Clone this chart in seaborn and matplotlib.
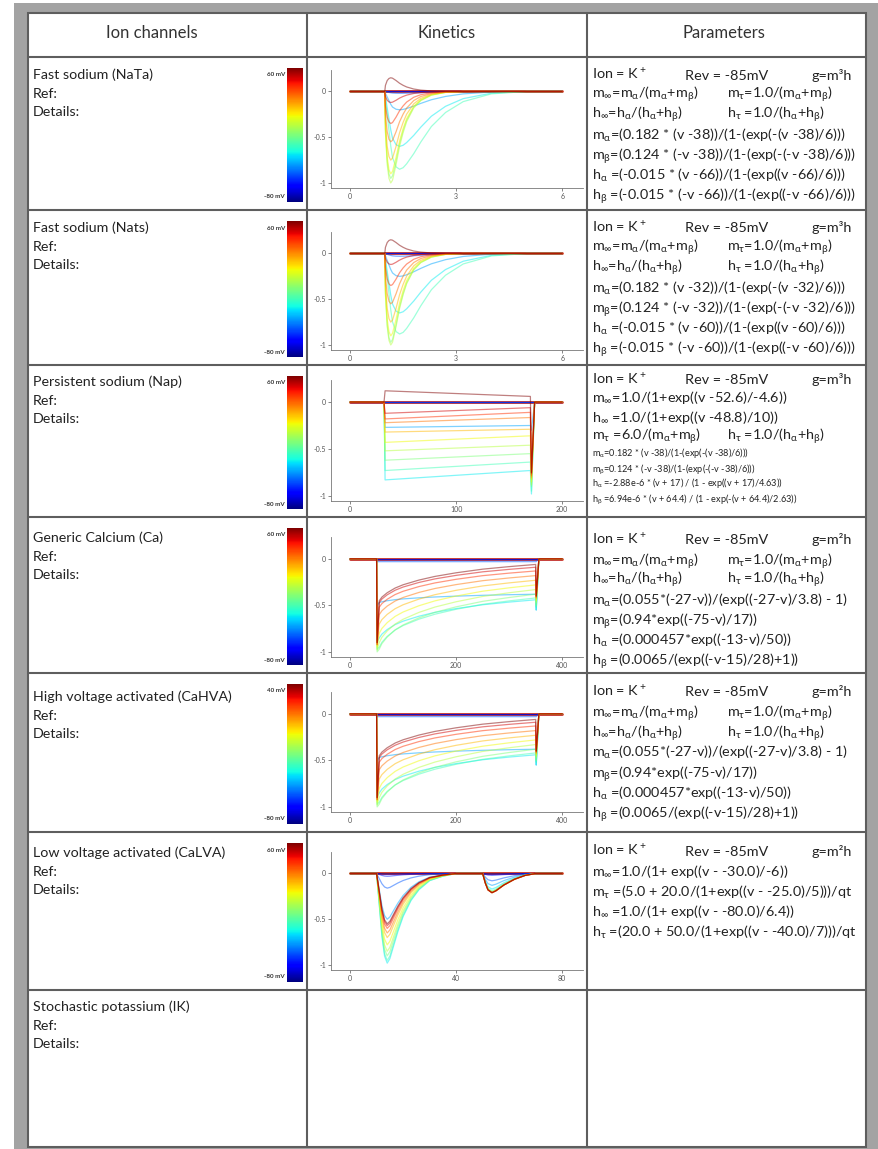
import numpy as np
import pandas as pd
import matplotlib
matplotlib.use('Agg')
import matplotlib.pyplot as plt
import matplotlib.colors as mcolors
import matplotlib.colorbar as mcolorbar
from matplotlib.patches import Rectangle
import seaborn as sns

sns.set_style('ticks')
plt.rcParams['font.family'] = ['Lato', 'DejaVu Sans']
plt.rcParams['mathtext.fontset'] = 'custom'
plt.rcParams['mathtext.rm'] = 'Lato'
plt.rcParams['mathtext.it'] = 'Lato'
plt.rcParams['mathtext.bf'] = 'Lato:bold'

W, H = 879, 1149
jet = plt.get_cmap('jet')

# ---- table content ----
headers = ['Ion channels', 'Kinetics', 'Parameters']
channels = ['Fast sodium (NaTa)', 'Fast sodium (Nats)', 'Persistent sodium (Nap)',
            'Generic Calcium (Ca)', 'High voltage activated (CaHVA)',
            'Low voltage activated (CaLVA)', 'Stochastic potassium (IK)']
cbar_top_labels = ['60 mV', '60 mV', '60 mV', '60 mV', '40 mV', '60 mV']
cbar_vmax = [60, 60, 60, 60, 40, 60]
cbar_bottom_label = '-80 mV'

# step voltages (mV) of the traces, one trace per voltage
volts = [-80, -70, -60, -50, -40, -30, -20, -10, 0, 10, 20, 30, 40, 50, 60]

# fast sodium: time (ms), two read-off current shapes (normalised) and peak per trace
na_t = [0, 0.98, 1.0, 1.05, 1.1, 1.15, 1.2, 1.3, 1.4, 1.5, 1.6, 1.8, 2.0, 2.3, 2.7, 3.2, 4.0, 5.0, 6.0]
na_fast = [0, 0, 0.45, 0.8, 0.95, 1.0, 0.97, 0.8, 0.6, 0.45, 0.33, 0.18, 0.1, 0.04, 0.01, 0, 0, 0, 0]
na_slow = [0, 0, 0.1, 0.3, 0.5, 0.7, 0.85, 0.97, 1.0, 0.98, 0.93, 0.8, 0.65, 0.45, 0.27, 0.13, 0.03, 0, 0]
nata_amp = [0, 0, 0, -0.02, -0.2, -0.6, -0.85, -0.95, -1.0, -0.9, -0.75, -0.55, -0.35, -0.12, 0.15]
nats_amp = [0, 0, 0, -0.03, -0.25, -0.65, -0.88, -0.97, -1.0, -0.9, -0.75, -0.55, -0.35, -0.12, 0.15]
na_shape = ['slow'] * 7 + ['fast'] * 8

# persistent sodium: level at step start / end and tail
nap_t = [0, 32, 33, 170, 171, 174, 200]
nap_start = [0, 0, 0, 0, -0.27, -0.83, -0.73, -0.62, -0.52, -0.43, -0.32, -0.22, -0.18, -0.12, 0.12]
nap_end = [0, 0, 0, 0, -0.25, -0.73, -0.64, -0.55, -0.46, -0.36, -0.29, -0.165, -0.11, -0.06, 0.06]
nap_tail = [0, 0, 0, 0, -0.3, -0.98, -0.95, -0.9, -0.88, -0.85, -0.82, -0.8, -0.78, -0.76, -0.75]

# generic / HVA calcium
ca_t = [0, 50, 51, 55, 60, 70, 85, 100, 130, 160, 200, 250, 300, 350, 351, 356, 400]
ca_decay = [1.0, 0.9, 0.78, 0.65, 0.56, 0.43, 0.33, 0.23, 0.13, 0.06, 0.0]
ca_spike = [0, 0, -0.01, -0.03, -0.5, -0.9, -0.97, -1.0, -0.98, -0.95, -0.93, -0.92, -0.92, -0.9, -0.9]
ca_peak = [0, 0, -0.01, -0.03, -0.47, -0.85, -0.95, -0.97, -0.9, -0.8, -0.7, -0.6, -0.52, -0.47, -0.45]
ca_end = [0, 0, -0.01, -0.03, -0.38, -0.44, -0.42, -0.38, -0.33, -0.28, -0.23, -0.18, -0.13, -0.09, -0.06]
ca_tail = [0, 0, -0.01, -0.03, -0.55, -0.55, -0.52, -0.5, -0.47, -0.45, -0.43, -0.42, -0.41, -0.4, -0.4]

# low voltage activated calcium: two pulses
lva_t = [0, 10, 11, 12, 13, 14, 15, 16, 18, 20, 23, 26, 30, 35, 40, 50,
         51, 52, 53.5, 55, 58, 62, 66, 70, 80]
lva_s1 = [0, 0.35, 0.7, 0.92, 1.0, 0.95, 0.85, 0.65, 0.48, 0.3, 0.18, 0.08, 0.03, 0]
lva_s2 = [0.5, 0.85, 1.0, 0.9, 0.6, 0.3, 0.1, 0]
lva_amp1 = [0, -0.01, -0.03, -0.16, -0.5, -0.98, -0.95, -0.9, -0.85, -0.78, -0.7, -0.65, -0.6, -0.57, -0.55]
lva_amp2 = [0, -0.01, -0.02, -0.08, -0.13, -0.17, -0.19, -0.2, -0.2, -0.21, -0.21, -0.21, -0.21, -0.21, -0.21]

hold_i = [0.0, 0.0]
hold_end = [6, 6, 200, 400, 400, 80]
x_ticks = [[0, 3, 6], [0, 3, 6], [0, 100, 200], [0, 200, 400], [0, 200, 400], [0, 40, 80]]


def frame(t, traces):
    rows = []
    for v, vals in zip(volts, traces):
        for tt, ii in zip(t, vals):
            rows.append((tt, ii, v))
    return pd.DataFrame(rows, columns=['t', 'i', 'v'])


shapes = {'fast': na_fast, 'slow': na_slow}
nata = frame(na_t, [[a * s for s in shapes[k]] for a, k in zip(nata_amp, na_shape)])
nats = frame(na_t, [[a * s for s in shapes[k]] for a, k in zip(nats_amp, na_shape)])
nap = frame(nap_t, [[0, 0, s, e, tl, 0, 0] for s, e, tl in zip(nap_start, nap_end, nap_tail)])
ca_traces = [[0, 0, sp] + [e + (p - e) * d for d in ca_decay] + [tl, 0, 0]
             for sp, p, e, tl in zip(ca_spike, ca_peak, ca_end, ca_tail)]
ca = frame(ca_t, ca_traces)
cahva = frame(ca_t, ca_traces)
calva = frame(lva_t, [[0] + [a1 * s for s in lva_s1] + [0] + [a2 * s for s in lva_s2] + [0]
                      for a1, a2 in zip(lva_amp1, lva_amp2)])
panels = [nata, nats, nap, ca, cahva, calva]

# ---- parameter texts ----
ion = [(592, r'Ion = K$^+$'), (685, 'Rev = -85mV'), (812, 'g=m³h')]
ion2 = [(592, r'Ion = K$^+$'), (685, 'Rev = -85mV'), (812, 'g=m²h')]
minf = [(592, r'm$_\infty$=m$_\alpha$/(m$_\alpha$+m$_\beta$)'), (727, r'm$_\tau$=1.0/(m$_\alpha$+m$_\beta$)')]
hinf = [(592, r'h$_\infty$=h$_\alpha$/(h$_\alpha$+h$_\beta$)'), (727, r'h$_\tau$ =1.0/(h$_\alpha$+h$_\beta$)')]


def na_params(a, b):
    return [ion, minf, hinf,
            [(592, r'm$_\alpha$=(0.182 * (v -%d))/(1-(exp(-(v -%d)/6)))' % (a, a))],
            [(592, r'm$_\beta$=(0.124 * (-v -%d))/(1-(exp(-(-v -%d)/6)))' % (a, a))],
            [(592, r'h$_\alpha$ =(-0.015 * (v -%d))/(1-(exp((v -%d)/6)))' % (b, b))],
            [(592, r'h$_\beta$ =(-0.015 * (-v -%d))/(1-(exp((-v -%d)/6)))' % (b, b))]]


ca_params = [ion2, minf, hinf,
             [(592, r'm$_\alpha$=(0.055*(-27-v))/(exp((-27-v)/3.8) - 1)')],
             [(592, r'm$_\beta$=(0.94*exp((-75-v)/17))')],
             [(592, r'h$_\alpha$ =(0.000457*exp((-13-v)/50))')],
             [(592, r'h$_\beta$ =(0.0065/(exp((-v-15)/28)+1))')]]

params = [
    na_params(38, 66),
    na_params(32, 60),
    [ion,
     [(592, r'm$_\infty$=1.0/(1+exp((v -52.6)/-4.6))')],
     [(592, r'h$_\infty$ =1.0/(1+exp((v -48.8)/10))')],
     [(592, r'm$_\tau$ =6.0/(m$_\alpha$+m$_\beta$)'), (727, r'h$_\tau$ =1.0/(h$_\alpha$+h$_\beta$)')],
     [(592, r'm$_\alpha$=0.182 * (v -38)/(1-(exp(-(v -38)/6)))')],
     [(592, r'm$_\beta$=0.124 * (-v -38)/(1-(exp(-(-v -38)/6)))')],
     [(592, r'h$_\alpha$ =-2.88e-6 * (v + 17) / (1 - exp((v + 17)/4.63))')],
     [(592, r'h$_\beta$ =6.94e-6 * (v + 64.4) / (1 - exp(-(v + 64.4)/2.63))')]],
    ca_params,
    ca_params,
    [ion2,
     [(592, r'm$_\infty$=1.0/(1+ exp((v - -30.0)/-6))')],
     [(592, r'm$_\tau$ =(5.0 + 20.0/(1+exp((v - -25.0)/5)))/qt')],
     [(592, r'h$_\infty$ =1.0/(1+ exp((v - -80.0)/6.4))')],
     [(592, r'h$_\tau$ =(20.0 + 50.0/(1+exp((v - -40.0)/7)))/qt')]],
]
param_offsets = [[18, 36, 56, 78, 98, 118, 138],
                 [18, 36, 56, 78, 98, 118, 138],
                 [15, 33, 52, 70, 88, 105, 118, 135],
                 [23, 43, 61, 83, 103, 123, 143],
                 [19, 39, 59, 79, 100, 120, 140],
                 [19, 40, 60, 80, 100]]
param_small = [[], [], [4, 5, 6, 7], [], [], []]

# ---- layout (pixels) ----
row_tops = [57, 210, 365, 517, 673, 832, 990]
table_bottom = 1147
name_offsets = [18, 18, 17, 21, 24, 21, 17]
kin_box = [(70, 188), (232, 350), (380, 501), (537, 657), (692, 812), (852, 970)]


def px(l, t, r, b):
    return [l / W, 1 - b / H, (r - l) / W, (b - t) / H]


fig = plt.figure(figsize=(W / 100, H / 100), dpi=100)
bg = fig.add_axes([0, 0, 1, 1])
bg.set_xlim(0, W)
bg.set_ylim(H, 0)
bg.axis('off')
bg.add_patch(Rectangle((14, 3), W - 14, H - 3, fc='#a3a3a3', ec='none'))
bg.add_patch(Rectangle((28, 13), 838, table_bottom - 13, fc='white', ec='#5e5e5e', lw=1.5))
for y in row_tops:
    bg.plot([28, 866], [y, y], color='#5e5e5e', lw=1.5)
for x in [307, 587]:
    bg.plot([x, x], [13, table_bottom], color='#5e5e5e', lw=1.5)

for x, h in zip([152, 447, 724], headers):
    bg.text(x, 33, h, fontsize=12, ha='center', va='center', color='#333333')

bottoms = row_tops[1:] + [table_bottom]
for r, name in enumerate(channels):
    top = row_tops[r]
    y0 = top + name_offsets[r]
    bg.text(33, y0, name, fontsize=10.3, va='center', color='#222222')
    bg.text(33, y0 + 19, 'Ref:', fontsize=10.3, va='center', color='#222222')
    bg.text(33, y0 + 37, 'Details:', fontsize=10.3, va='center', color='#222222')
    if r >= len(panels):
        continue

    # colour bar
    cb_top, cb_bot = top + 11, bottoms[r] - 8
    cax = fig.add_axes(px(287, cb_top, 303, cb_bot))
    cb = mcolorbar.ColorbarBase(cax, cmap=jet, norm=mcolors.Normalize(-80, cbar_vmax[r]))
    cb.outline.set_visible(False)
    cax.set_yticks([])
    bg.text(285, cb_top + 7, cbar_top_labels[r], fontsize=4.5, fontweight='bold',
            ha='right', va='center', color='#333333')
    bg.text(285, cb_bot - 5, cbar_bottom_label, fontsize=4.5, fontweight='bold',
            ha='right', va='center', color='#333333')

    # kinetics
    kt, kb = kin_box[r]
    ax = fig.add_axes(px(331, kt, 583, kb))
    end = hold_end[r]
    sns.lineplot(x=[0, end], y=hold_i, color='#e2391b', lw=2.0, ax=ax)
    sns.lineplot(data=panels[r], x='t', y='i', hue='v', units='v', estimator=None,
                 palette=jet, hue_norm=(-80, 60), legend=False, lw=0.9, alpha=0.5, ax=ax)
    span = end
    ax.set_xlim(-0.09 * span, 1.098 * span)
    ax.set_ylim(-1.055, 0.235)
    ax.set_xticks(x_ticks[r])
    ax.set_xticklabels([str(v) for v in x_ticks[r]])
    ax.set_yticks([-1, -0.5, 0])
    ax.set_yticklabels(['-1', '-0.5', '0'])
    ax.set_xlabel('')
    ax.set_ylabel('')
    ax.tick_params(labelsize=5, length=2, width=0.5, pad=1.5, colors='#555555')
    sns.despine(ax=ax)
    for s in ['left', 'bottom']:
        ax.spines[s].set_linewidth(0.6)
        ax.spines[s].set_color('#777777')

    # parameters
    pax = fig.add_axes(px(588, top + 1, 866, bottoms[r] - 1))
    pax.set_xlim(588, 866)
    pax.set_ylim(bottoms[r] - 1, top + 1)
    pax.axis('off')
    for k, (line, off) in enumerate(zip(params[r], param_offsets[r])):
        small = k in param_small[r]
        fs = 6.6 if small else 10.4
        for x, s in line:
            t = pax.text(x, top + off + (2.5 if small else 4.5), s, fontsize=fs,
                         va='baseline', color='#222222', clip_on=True)
            t.set_clip_box(pax.bbox)

fig.savefig('out.png', dpi=100)
